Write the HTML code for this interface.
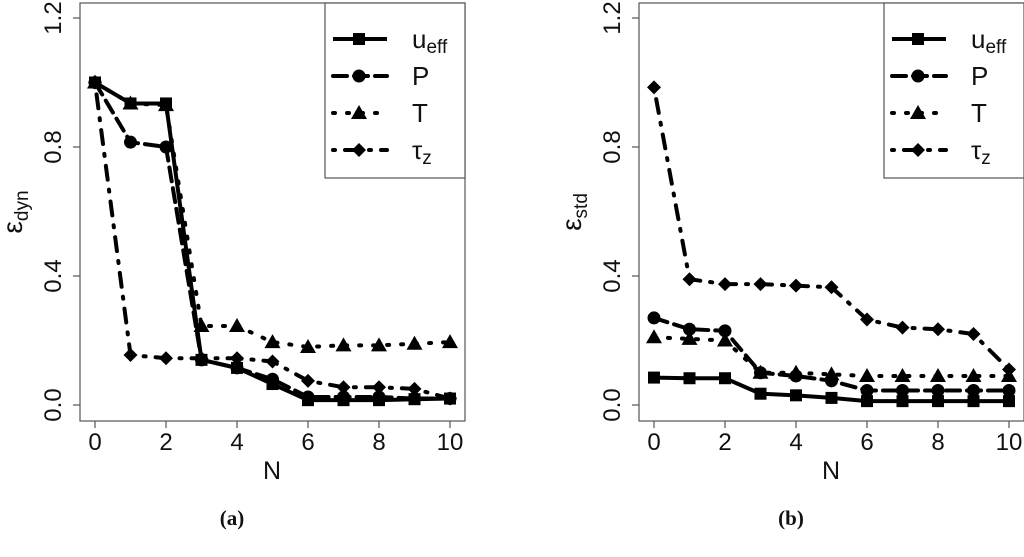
<!DOCTYPE html>
<html><head><meta charset="utf-8"><style>
html,body{margin:0;padding:0;background:#fff;width:1024px;height:557px;overflow:hidden}
svg{display:block;font-family:"Liberation Sans",sans-serif}
</style></head><body>
<svg id="s" width="1024" height="557" viewBox="0 0 1024 557"></svg>
<script>
const xs=[0,1,2,3,4,5,6,7,8,9,10];
const xTicks=[0,2,4,6,8,10];
const yTicks=["0.0","0.4","0.8","1.2"];
const seriesNames=["u","P","T","tau"];
const dynU=[1.0,0.935,0.935,0.14,0.115,0.065,0.015,0.015,0.015,0.018,0.02];
const dynP=[1.0,0.815,0.80,0.14,0.115,0.08,0.025,0.025,0.025,0.02,0.02];
const dynT=[1.0,0.935,0.93,0.245,0.245,0.195,0.18,0.185,0.185,0.19,0.195];
const dynTau=[1.0,0.155,0.145,0.145,0.145,0.135,0.075,0.055,0.055,0.05,0.02];
const stdU=[0.085,0.083,0.083,0.035,0.03,0.022,0.012,0.012,0.012,0.012,0.012];
const stdP=[0.27,0.235,0.23,0.1,0.09,0.075,0.045,0.045,0.045,0.045,0.045];
const stdT=[0.21,0.205,0.2,0.1,0.1,0.095,0.09,0.09,0.09,0.09,0.09];
const stdTau=[0.985,0.39,0.375,0.375,0.37,0.365,0.265,0.24,0.235,0.22,0.11];

const NS="http://www.w3.org/2000/svg";
const svg=document.getElementById('s');
function mk(tag,attrs,parent){const e=document.createElementNS(NS,tag);for(const k in attrs)e.setAttribute(k,attrs[k]);(parent||svg).appendChild(e);return e;}
const dashes={u:"",P:"14,7",T:"2,12",tau:"2,10,14,10"};

function marker(g,type,x,y){
  let m;
  if(type==="u") m=mk('rect',{x:x-6,y:y-6,width:12,height:12,fill:'#000'},g);
  else if(type==="P") m=mk('circle',{cx:x,cy:y,r:6.5,fill:'#000'},g);
  else if(type==="T") m=mk('polygon',{points:`${x},${y-8} ${x-8},${y+6} ${x+8},${y+6}`,fill:'#000'},g);
  else m=mk('polygon',{points:`${x},${y-7} ${x+7},${y} ${x},${y+7} ${x-7},${y}`,fill:'#000'},g);
  return m;
}

function panel(id,ox,ylab,sub,data,tag){
  const L=ox+80,R=ox+465,T=3,B=421;
  const X=v=>ox+95+v*35.5;
  const Y=v=>405-v*322.5;
  const g=mk('g',{});
  
  
  const box=mk('rect',{x:L,y:T,width:R-L,height:B-T,fill:'none',stroke:'#555','stroke-width':1.2},g);
  
  xTicks.forEach(t=>{
    mk('line',{x1:X(t),x2:X(t),y1:B,y2:B+7,stroke:'#555','stroke-width':1.2},g);
    const tx=mk('text',{x:X(t),y:B+29,'font-size':24,'text-anchor':'middle',fill:'#111'},g);
    tx.textContent=t;
  });
  yTicks.forEach(t=>{
    const y=Y(parseFloat(t));
    mk('line',{x1:L-7,x2:L,y1:y,y2:y,stroke:'#555','stroke-width':1.2},g);
    const tx=mk('text',{x:0,y:0,'font-size':24,'text-anchor':'middle',fill:'#111',transform:`translate(${L-19},${y}) rotate(-90)`},g);
    tx.textContent=t;
  });
  const xl=mk('text',{x:ox+272,y:479,'font-size':25,'text-anchor':'middle',fill:'#111'},g);
  xl.textContent='N';
  const yl=mk('text',{x:0,y:0,'font-size':28,'text-anchor':'middle',fill:'#111',transform:`translate(${ox+22},212) rotate(-90)`},g);
  
  const e=mk('tspan',{},yl);e.textContent='ε';
  const s=mk('tspan',{'font-size':19,dy:6},yl);s.textContent=sub;
  data.forEach((arr,i)=>{
    const nm=seriesNames[i];
    const pts=xs.map((x,j)=>X(x)+','+Y(arr[j])).join(' ');
    const pl=mk('polyline',{points:pts,fill:'none',stroke:'#000','stroke-width':4,'stroke-dasharray':dashes[nm],'stroke-linecap':nm==="u"?'butt':'round'},g);
    
    xs.forEach((x,j)=>{const m=marker(g,nm,X(x),Y(arr[j]));
      });
  });
  const lg=mk('g',{},g);
  
  mk('rect',{x:ox+325,y:T,width:R-(ox+325),height:175,fill:'#fff',stroke:'#555','stroke-width':1.2},lg);
  const labels=[['u','eff'],['P',''],['T',''],['τ','z']];
  seriesNames.forEach((nm,i)=>{
    const y=39+i*37;
    const le=mk('g',{},lg);
    
    mk('line',{x1:ox+333,x2:ox+387,y1:y,y2:y,stroke:'#000','stroke-width':4,'stroke-dasharray':dashes[nm],'stroke-linecap':nm==="u"?'butt':'round'},le);
    marker(le,nm,ox+359,y);
    const t=mk('text',{x:ox+412,y:y+9,'font-size':26,fill:'#111'},le);
    const a=mk('tspan',{},t);a.textContent=labels[i][0];
    if(labels[i][1]){const b=mk('tspan',{'font-size':19,dy:5},t);b.textContent=labels[i][1];}
  });
  const cap=mk('text',{x:ox+232,y:525,'font-size':21,'font-weight':'bold','text-anchor':'middle','font-family':'Liberation Serif, serif',fill:'#111'},g);
  cap.textContent=tag;
}
panel('dyn',0,'ε','dyn',[dynU,dynP,dynT,dynTau],'(a)');
panel('std',559,'ε','std',[stdU,stdP,stdT,stdTau],'(b)');
</script>
</body></html>
